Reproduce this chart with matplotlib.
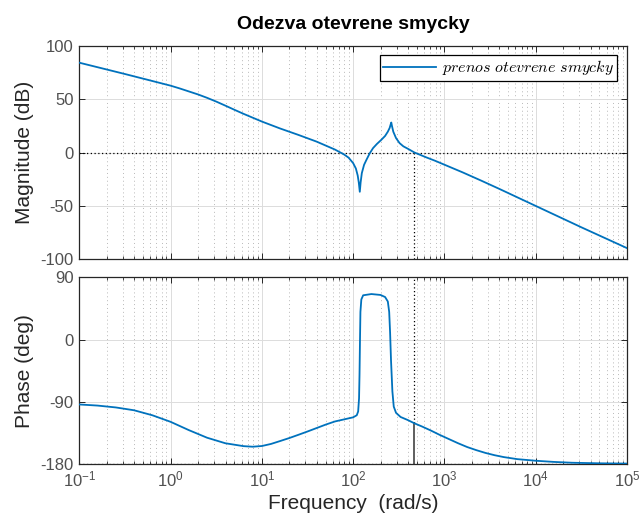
import numpy as np
import matplotlib
matplotlib.use("Agg")
import matplotlib.pyplot as plt
from matplotlib.ticker import LogLocator, NullFormatter, FixedLocator

plt.rcParams['font.family'] = ['Liberation Sans', 'DejaVu Sans']
plt.rcParams['mathtext.fontset'] = 'custom'
plt.rcParams['mathtext.rm'] = 'Liberation Sans'
plt.rcParams['mathtext.it'] = 'Liberation Sans:italic'
plt.rcParams['axes.unicode_minus'] = False

# Decade ticks of the frequency axis (rad/s)
freq_ticks = [0.1, 1.0, 10.0, 100.0, 1000.0, 10000.0, 100000.0]

# Open-loop frequency response: magnitude (rad/s, dB)
mag_freq = [0.1, 0.3162, 1.0, 1.259, 1.585, 1.995, 2.512, 3.162, 3.981, 5.012, 6.310,
            10.0, 15.85, 25.12, 39.81, 63.10, 79.43, 89.13, 100.0, 107.2, 112.2,
            115.3, 118.3, 120.8, 124.5, 131.8, 140.0, 151.4, 165.2, 182.0, 203.7,
            223.9, 239.9, 251.2, 258.2, 261.8, 266.1, 275.4, 295.1, 322.8, 354.8,
            398.1, 470.0, 631.0, 794.3, 1000.0, 1585.0, 2512.0, 3981.0, 6310.0,
            10000.0, 31620.0, 100000.0]
mag_db = [84.1, 73.5, 62.6, 60.0, 57.2, 54.4, 51.2, 47.7, 43.9, 40.0, 36.2,
          29.0, 22.5, 16.5, 10.2, 2.8, -1.8, -4.8, -9.9, -15.0, -21.5,
          -28.0, -36.8, -28.0, -19.3, -11.5, -6.8, -1.0, 4.1, 8.0, 11.9,
          15.5, 19.5, 23.0, 26.5, 28.1, 25.0, 19.5, 13.5, 8.8, 5.8,
          3.5, 0.0, -4.5, -7.8, -11.4, -18.6, -26.2, -34.0, -42.0,
          -50.0, -70.0, -89.5]

# Open-loop frequency response: phase (rad/s, deg)
ph_freq = [0.1, 0.1585, 0.2512, 0.3981, 0.6310, 1.0, 1.585, 2.512, 3.981, 6.310,
           7.943, 10.0, 12.59, 15.85, 19.95, 25.12, 31.62, 39.81, 50.12, 63.10,
           79.43, 100.0, 109.6, 113.5, 116.1, 117.5, 118.9, 120.2, 123.0, 128.8,
           158.5, 199.5, 223.9, 239.9, 248.3, 254.1, 260.0, 269.2, 278.6, 295.1,
           331.1, 398.1, 470.0, 562.3, 707.9, 891.3, 1122.0, 1413.0, 1778.0, 2239.0,
           2818.0, 3548.0, 4467.0, 6310.0, 10000.0, 15850.0, 25120.0, 50120.0, 100000.0]
ph_deg = [-93.9, -95.5, -98.2, -102.3, -109.5, -119.0, -131.0, -142.0, -150.0, -154.2,
          -155.0, -154.0, -151.0, -146.8, -142.5, -137.8, -133.0, -128.0, -123.0, -118.5,
          -115.5, -112.5, -109.5, -104.0, -85.0, -50.0, 0.0, 40.0, 58.0, 64.0,
          65.8, 64.5, 61.5, 55.0, 40.0, 10.0, -30.0, -75.0, -97.0, -106.0,
          -112.0, -116.5, -121.2, -125.5, -131.5, -138.0, -144.0, -150.0, -155.5, -160.0,
          -164.0, -167.3, -170.0, -173.0, -175.3, -177.0, -178.2, -179.0, -179.4]

# Gain crossover frequency (rad/s)
w_cross = 470.0
ph_cross = np.interp(np.log10(w_cross), np.log10(ph_freq), ph_deg)

line_color = '#0072BD'
axis_color = '#262626'
tick_color = '#505050'

fig = plt.figure(figsize=(6.42, 5.2), dpi=100)
ax_mag = fig.add_axes([0.1235, 0.5013, 0.8531, 0.4108])
ax_ph = fig.add_axes([0.1235, 0.1077, 0.8531, 0.3590])

for ax in (ax_mag, ax_ph):
    ax.set_xscale('log')
    ax.set_xlim(freq_ticks[0], freq_ticks[-1])
    ax.xaxis.set_major_locator(FixedLocator(freq_ticks))
    ax.xaxis.set_minor_locator(LogLocator(base=10, subs=np.arange(2, 10), numticks=20))
    ax.grid(True, which='major', color='#dcdcdc', lw=0.7, ls='-')
    ax.grid(True, which='minor', axis='x', color='#b8b8b8', lw=0.7, ls=(0, (1, 3)))
    ax.set_axisbelow(True)
    ax.tick_params(which='both', direction='in', top=True, right=True,
                   color=axis_color, labelcolor=tick_color, labelsize=12)
    ax.tick_params(which='major', length=4, width=0.7, pad=4)
    ax.tick_params(which='minor', length=2, width=0.6)
    for s in ax.spines.values():
        s.set_color(axis_color)
        s.set_linewidth(0.9)

# Magnitude axes
ax_mag.plot(mag_freq, mag_db, color=line_color, lw=1.3, label=r'$prenos\ otevrene\ smycky$', zorder=3)
ax_mag.axhline(0, color='black', lw=0.9, ls=(0, (1, 2)), zorder=2)
ax_mag.plot([w_cross, w_cross], [-100, 0], color='black', lw=0.9, ls=(0, (1, 2)), zorder=2)
ax_mag.set_ylim(-100, 100)
ax_mag.yaxis.set_major_locator(FixedLocator([-100, -50, 0, 50, 100]))
ax_mag.xaxis.set_major_formatter(NullFormatter())
ax_mag.set_ylabel('Magnitude (dB)', fontsize=15, color=axis_color, labelpad=5)
ax_mag.set_title('Odezva otevrene smycky', fontsize=14, fontweight='bold', pad=12)

leg = ax_mag.legend(loc='upper right', fontsize=11.5, frameon=True, fancybox=False,
                    edgecolor='black', framealpha=1, handlelength=3.3,
                    handletextpad=0.4, borderpad=0.2, borderaxespad=0.6)
leg.get_frame().set_linewidth(0.9)
for t in leg.get_texts():
    t.set_math_fontfamily('cm')

# Phase axes
ax_ph.plot(ph_freq, ph_deg, color=line_color, lw=1.3, zorder=3)
ax_ph.axhline(-180, color='black', lw=0.9, ls=(0, (1, 2)), zorder=2)
ax_ph.plot([w_cross, w_cross], [ph_cross, 90], color='black', lw=0.9, ls=(0, (1, 2)), zorder=2)
ax_ph.plot([w_cross, w_cross], [-180, ph_cross], color='#333333', lw=1.1, zorder=2)
ax_ph.set_ylim(-180, 90)
ax_ph.yaxis.set_major_locator(FixedLocator([-180, -90, 0, 90]))
ax_ph.set_ylabel('Phase (deg)', fontsize=15, color=axis_color, labelpad=5)
ax_ph.set_xlabel('Frequency  (rad/s)', fontsize=15, color=axis_color, labelpad=3)

fig.savefig('out.png', dpi=100)
